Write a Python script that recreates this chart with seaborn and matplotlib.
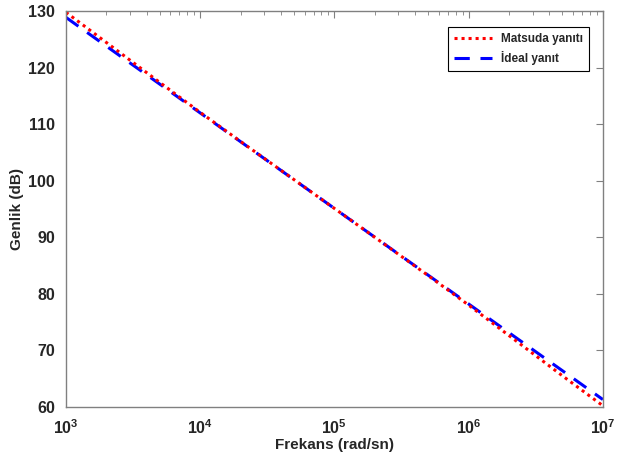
import numpy as np
import pandas as pd
import matplotlib
matplotlib.use('Agg')
import matplotlib.pyplot as plt
import seaborn as sns

# 周波数 (rad/sn) と振幅 (dB)
freq = [1e3, 2e3, 5e3, 1e4, 2e4, 5e4, 1e5, 2e5, 5e5, 1e6, 2e6, 5e6, 1e7]
ideal_db = [128.9, 123.81, 117.09, 112.0, 106.91, 100.19, 95.1,
            90.01, 83.29, 78.2, 73.11, 66.39, 61.3]
matsuda_db = [129.8, 124.46, 117.39, 112.1, 106.95, 100.2, 95.1,
              90.0, 83.22, 78.0, 72.61, 65.49, 60.2]

sns.set_style('white')
plt.rcParams['font.family'] = ['Liberation Sans', 'DejaVu Sans']
plt.rcParams['font.weight'] = 'bold'

df_m = pd.DataFrame({'freq': freq, 'db': matsuda_db})
df_i = pd.DataFrame({'freq': freq, 'db': ideal_db})

fig = plt.figure(figsize=(6.28, 4.65), dpi=100)
ax = fig.add_axes([0.105, 0.125, 0.855, 0.851])

sns.lineplot(data=df_i, x='freq', y='db', ax=ax, color='#0000ff',
             linestyle=(0, (5, 3.5)), linewidth=2.2, label='İdeal yanıt')
sns.lineplot(data=df_m, x='freq', y='db', ax=ax, color='#ff0000',
             linestyle=(0, (1, 1.3)), linewidth=2.2, label='Matsuda yanıtı')

ax.set_xscale('log')
ax.set_xlim(1e3, 1e7)
ax.set_ylim(60, 130)
ax.set_yticks(range(60, 131, 10))

txt = '#262626'
ax.set_xlabel('Frekans (rad/sn)', fontsize=11, fontweight='bold', color=txt,
              labelpad=1)
ax.set_ylabel('Genlik (dB)', fontsize=11, fontweight='bold', color=txt,
              labelpad=3)
ax.tick_params(axis='both', which='both', direction='in', top=True, right=True,
               colors='#808080', labelcolor=txt, labelsize=11.5)
ax.tick_params(axis='x', which='major', pad=8)
ax.tick_params(axis='y', which='major', pad=8)
ax.tick_params(which='major', length=5)
ax.tick_params(which='minor', length=3)
for s in ax.spines.values():
    s.set_color('#808080')
    s.set_linewidth(1.0)

# 凡例の順序を揃える
h, l = ax.get_legend_handles_labels()
leg = ax.legend([h[1], h[0]], [l[1], l[0]], loc='upper right', fontsize=8.5,
                frameon=True, fancybox=False, edgecolor='black',
                framealpha=1, borderpad=0.5, handlelength=3.2,
                bbox_to_anchor=(0.985, 0.975))
leg.get_frame().set_linewidth(0.8)
for t in leg.get_texts():
    t.set_fontweight('bold')

fig.savefig('out.png', dpi=100)
